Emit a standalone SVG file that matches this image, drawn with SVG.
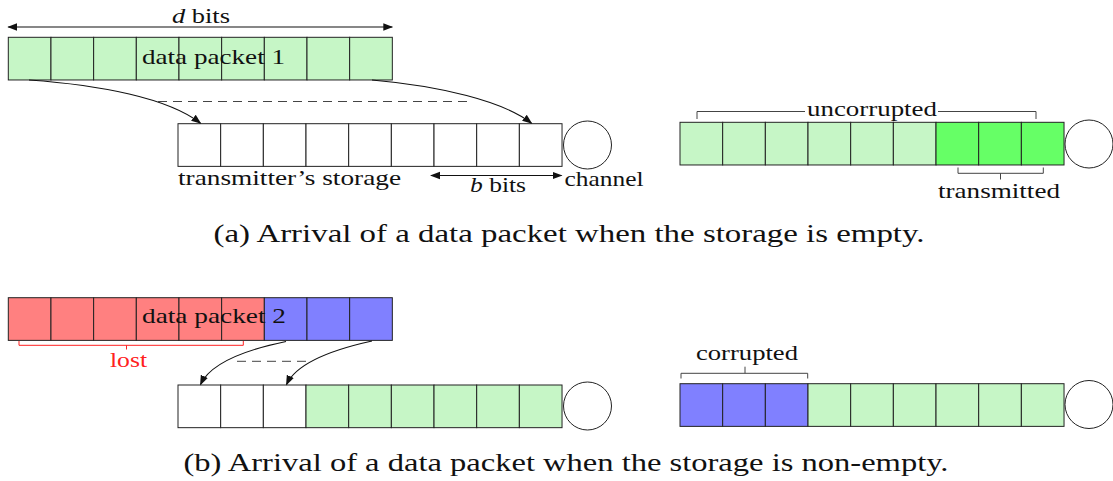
<svg xmlns="http://www.w3.org/2000/svg" width="1113" height="481" viewBox="0 0 1113 481">
<style>
  .cell { stroke: #222; stroke-width: 1; }
  .lg { fill: #c6f6c6; }
  .bg { fill: #66ff66; }
  .rd { fill: #ff8080; }
  .bl { fill: #8080ff; }
  .wh { fill: #ffffff; }
  .ch { fill: none; stroke: #222; stroke-width: 1; }
  .lbl { font-family: "Liberation Serif", "DejaVu Serif", serif; font-size: 21px; fill: #111; }
  .cap { font-family: "Liberation Serif", "DejaVu Serif", serif; font-size: 25px; fill: #111; }
  .conn { fill: none; stroke: #111; stroke-width: 1.1; }
  .dash { fill: none; stroke: #444; stroke-width: 1; stroke-dasharray: 9 6; }
  .brk { fill: none; stroke: #444; stroke-width: 1; }
  .brkr { fill: none; stroke: #ff2020; stroke-width: 1; }
</style>
<defs>
  <marker id="ah" viewBox="0 0 10 10" refX="9" refY="5" markerWidth="10" markerHeight="10" markerUnits="userSpaceOnUse" orient="auto-start-reverse">
    <path d="M0,1.2 L10,5 L0,8.8 Z" fill="#111"/>
  </marker>
  <g id="row9">
    <rect x="0" y="0" width="42.67" height="42.67"/>
  </g>
</defs>
<rect width="1113" height="481" fill="#ffffff"/>

<!-- (a) data packet 1 -->
<g id="packet1">
  <g class="cell lg">
    <rect x="8.3" y="37.3" width="42.67" height="42.67"/>
    <rect x="50.97" y="37.3" width="42.67" height="42.67"/>
    <rect x="93.64" y="37.3" width="42.67" height="42.67"/>
    <rect x="136.31" y="37.3" width="42.67" height="42.67"/>
    <rect x="178.98" y="37.3" width="42.67" height="42.67"/>
    <rect x="221.65" y="37.3" width="42.67" height="42.67"/>
    <rect x="264.32" y="37.3" width="42.67" height="42.67"/>
    <rect x="306.99" y="37.3" width="42.67" height="42.67"/>
    <rect x="349.66" y="37.3" width="42.67" height="42.67"/>
  </g>
  <text class="lbl" x="142" y="63.5" textLength="143" lengthAdjust="spacingAndGlyphs">data packet 1</text>
</g>

<g id="dbits">
  <line class="conn" x1="8.3" y1="27" x2="392.3" y2="27" marker-start="url(#ah)" marker-end="url(#ah)"/>
  <text class="lbl" x="172" y="22.5" textLength="58" lengthAdjust="spacingAndGlyphs"><tspan font-style="italic">d</tspan> bits</text>
</g>

<!-- (a) storage -->
<g id="storageA">
  <g class="cell wh">
    <rect x="178" y="123.7" width="42.67" height="42.67"/>
    <rect x="220.67" y="123.7" width="42.67" height="42.67"/>
    <rect x="263.34" y="123.7" width="42.67" height="42.67"/>
    <rect x="306.01" y="123.7" width="42.67" height="42.67"/>
    <rect x="348.68" y="123.7" width="42.67" height="42.67"/>
    <rect x="391.35" y="123.7" width="42.67" height="42.67"/>
    <rect x="434.02" y="123.7" width="42.67" height="42.67"/>
    <rect x="476.69" y="123.7" width="42.67" height="42.67"/>
    <rect x="519.36" y="123.7" width="42.67" height="42.67"/>
  </g>
  <text class="lbl" x="178" y="185" textLength="223" lengthAdjust="spacingAndGlyphs">transmitter’s storage</text>
</g>
<g id="channelA">
  <circle class="ch" cx="587.5" cy="145" r="24"/>
  <text class="lbl" x="564.5" y="186" textLength="79" lengthAdjust="spacingAndGlyphs">channel</text>
</g>
<g id="bbits">
  <line class="conn" x1="431" y1="175.5" x2="561.5" y2="175.5" marker-start="url(#ah)" marker-end="url(#ah)"/>
  <text class="lbl" x="470" y="192" textLength="56" lengthAdjust="spacingAndGlyphs"><tspan font-style="italic">b</tspan> bits</text>
</g>

<!-- (a) right -->
<g id="resultA">
  <g class="cell">
    <rect class="lg" x="680" y="122.3" width="42.67" height="42.67"/>
    <rect class="lg" x="722.67" y="122.3" width="42.67" height="42.67"/>
    <rect class="lg" x="765.34" y="122.3" width="42.67" height="42.67"/>
    <rect class="lg" x="808.01" y="122.3" width="42.67" height="42.67"/>
    <rect class="lg" x="850.68" y="122.3" width="42.67" height="42.67"/>
    <rect class="lg" x="893.35" y="122.3" width="42.67" height="42.67"/>
    <rect class="bg" x="936.02" y="122.3" width="42.67" height="42.67"/>
    <rect class="bg" x="978.69" y="122.3" width="42.67" height="42.67"/>
    <rect class="bg" x="1021.36" y="122.3" width="42.67" height="42.67"/>
  </g>
  <circle class="ch" cx="1089" cy="144" r="24"/>
</g>
<g id="uncorrupted">
  <path class="brk" d="M697,119 V111.5 H805 M938,111.5 H1036 V119"/>
  <text class="lbl" x="807" y="116" textLength="130" lengthAdjust="spacingAndGlyphs">uncorrupted</text>
</g>
<g id="transmitted">
  <path class="brk" d="M958,167.5 V173.3 H1043.3 V167.5 M1000.5,173.3 V179.5"/>
  <text class="lbl" x="938" y="197.5" textLength="122" lengthAdjust="spacingAndGlyphs">transmitted</text>
</g>

<g id="captionA">
  <text class="cap" x="213.5" y="242" textLength="711" lengthAdjust="spacingAndGlyphs">(a) Arrival of a data packet when the storage is empty.</text>
</g>

<!-- (b) data packet 2 -->
<g id="packet2">
  <g class="cell">
    <rect class="rd" x="8.3" y="297.7" width="42.67" height="42.67"/>
    <rect class="rd" x="50.97" y="297.7" width="42.67" height="42.67"/>
    <rect class="rd" x="93.64" y="297.7" width="42.67" height="42.67"/>
    <rect class="rd" x="136.31" y="297.7" width="42.67" height="42.67"/>
    <rect class="rd" x="178.98" y="297.7" width="42.67" height="42.67"/>
    <rect class="rd" x="221.65" y="297.7" width="42.67" height="42.67"/>
    <rect class="bl" x="264.32" y="297.7" width="42.67" height="42.67"/>
    <rect class="bl" x="306.99" y="297.7" width="42.67" height="42.67"/>
    <rect class="bl" x="349.66" y="297.7" width="42.67" height="42.67"/>
  </g>
  <text class="lbl" x="142" y="322.5" textLength="144" lengthAdjust="spacingAndGlyphs">data packet 2</text>
</g>
<g id="lost">
  <path class="brkr" d="M19,341 V345.3 H243.3 V341 M126.5,345.3 V349.5"/>
  <text class="lbl" x="110" y="366.5" textLength="37" lengthAdjust="spacingAndGlyphs" fill="#ff2020" style="fill:#ff2020">lost</text>
</g>

<!-- (b) storage -->
<g id="storageB">
  <g class="cell">
    <rect class="wh" x="178" y="385" width="42.67" height="42.67"/>
    <rect class="wh" x="220.67" y="385" width="42.67" height="42.67"/>
    <rect class="wh" x="263.34" y="385" width="42.67" height="42.67"/>
    <rect class="lg" x="306.01" y="385" width="42.67" height="42.67"/>
    <rect class="lg" x="348.68" y="385" width="42.67" height="42.67"/>
    <rect class="lg" x="391.35" y="385" width="42.67" height="42.67"/>
    <rect class="lg" x="434.02" y="385" width="42.67" height="42.67"/>
    <rect class="lg" x="476.69" y="385" width="42.67" height="42.67"/>
    <rect class="lg" x="519.36" y="385" width="42.67" height="42.67"/>
  </g>
  <circle class="ch" cx="587.5" cy="406" r="24"/>
</g>

<!-- (b) right -->
<g id="resultB">
  <g class="cell">
    <rect class="bl" x="680" y="383.7" width="42.67" height="42.67"/>
    <rect class="bl" x="722.67" y="383.7" width="42.67" height="42.67"/>
    <rect class="bl" x="765.34" y="383.7" width="42.67" height="42.67"/>
    <rect class="lg" x="808.01" y="383.7" width="42.67" height="42.67"/>
    <rect class="lg" x="850.68" y="383.7" width="42.67" height="42.67"/>
    <rect class="lg" x="893.35" y="383.7" width="42.67" height="42.67"/>
    <rect class="lg" x="936.02" y="383.7" width="42.67" height="42.67"/>
    <rect class="lg" x="978.69" y="383.7" width="42.67" height="42.67"/>
    <rect class="lg" x="1021.36" y="383.7" width="42.67" height="42.67"/>
  </g>
  <circle class="ch" cx="1089" cy="404.5" r="24"/>
</g>
<g id="corrupted">
  <path class="brk" d="M681,378.5 V373.3 H807.7 V378.5 M745,373.3 V366.7"/>
  <text class="lbl" x="696" y="360" textLength="102" lengthAdjust="spacingAndGlyphs">corrupted</text>
</g>

<g id="captionB">
  <text class="cap" x="183.5" y="471" textLength="765" lengthAdjust="spacingAndGlyphs">(b) Arrival of a data packet when the storage is non-empty.</text>
</g>

<!-- connectors -->
<g id="connectors">
  <path class="conn" d="M29,80 C100,85 168,98 200.5,123.2" marker-end="url(#ah)"/>
  <path class="conn" d="M372,80 C440,86 503,101 531.5,123.2" marker-end="url(#ah)"/>
  <line class="dash" x1="158" y1="101.5" x2="468" y2="101.5"/>
  <path class="conn" d="M286,341.5 C245,350 210,364 200.5,384.5" marker-end="url(#ah)"/>
  <path class="conn" d="M372,341 C331,350 296,364 286.5,384.5" marker-end="url(#ah)"/>
  <line class="dash" x1="237" y1="361.3" x2="306" y2="361.3"/>
</g>
</svg>
